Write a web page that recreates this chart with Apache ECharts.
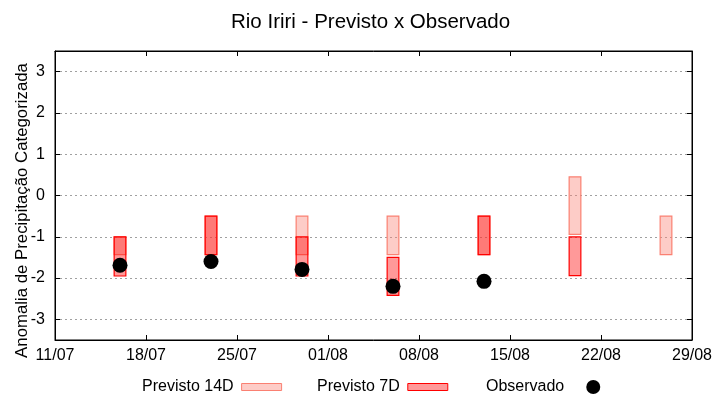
<!DOCTYPE html>
<html>
<head>
<meta charset="utf-8">
<script src="https://cdn.jsdelivr.net/npm/echarts@6/dist/echarts.min.js"></script>
<style>html,body{margin:0;padding:0;background:#fff}#c{width:720px;height:400px}</style>
</head>
<body>
<div id="c"></div>
<script>
// ---- data ----
const xTickLabels = ['11/07','18/07','25/07','01/08','08/08','15/08','22/08','29/08'];
const yTicks = [-3,-2,-1,0,1,2,3];

const dates14 = ['16/07','23/07','30/07','06/08','13/08','20/08','27/08'];
const high14  = [-1.00, -0.50, -0.50, -0.50, -0.50,  0.45, -0.50];
const low14   = [-1.43, -1.43, -1.43, -1.43, -1.43, -0.94, -1.43];

const dates7 = ['16/07','23/07','30/07','06/08','13/08','20/08'];
const high7  = [-1.00, -0.50, -1.00, -1.50, -0.50, -1.00];
const low7   = [-1.95, -1.43, -1.95, -2.42, -1.43, -1.94];

const datesObs = ['16/07','23/07','30/07','06/08','13/08'];
const obs      = [-1.69, -1.60, -1.79, -2.20, -2.08];

// ---- helpers ----
const ORIGIN = Date.UTC(2020, 6, 11);
function dayOf(s){ const [d,m] = s.split('/').map(Number); return Math.round((Date.UTC(2020, m-1, d) - ORIGIN)/86400000); }
function labelOf(v){ const dt = new Date(ORIGIN + v*86400000); return String(dt.getUTCDate()).padStart(2,'0') + '/' + String(dt.getUTCMonth()+1).padStart(2,'0'); }

const BOX_W = 0.9;
function boxRender(fill, stroke, lw){
  return function(params, api){
    const x = api.value(0), lo = api.value(1), hi = api.value(2);
    const p1 = api.coord([x - BOX_W/2, hi]);
    const p2 = api.coord([x + BOX_W/2, lo]);
    return { type:'rect', shape:{x:p1[0], y:p1[1], width:p2[0]-p1[0], height:p2[1]-p1[1]},
             style:{fill:fill, stroke:stroke, lineWidth:lw} };
  };
}

const FONT = 'Liberation Sans, Arial, sans-serif';
const C14_FILL = 'rgba(250,128,114,0.4)', C14_LINE = '#FA8072';
const C7_FILL = 'rgba(255,0,0,0.4)', C7_LINE = '#FF0000';

const chart = echarts.init(document.getElementById('c'));
chart.setOption({
  animation:false,
  backgroundColor:'#fff',
  textStyle:{fontFamily:FONT},
  title:{text:'Rio Iriri - Previsto x Observado', left:226, top:7,
         textStyle:{fontFamily:FONT, fontSize:20.5, fontWeight:'normal', color:'#000'}},
  grid:{left:55, right:28, top:51, bottom:60, show:true, borderColor:'#000', borderWidth:1,
        containLabel:false, outerBoundsMode:'none'},
  legend:[
    {data:[{name:'Previsto 14D', icon:'rect', itemStyle:{color:C14_FILL, borderColor:C14_LINE, borderWidth:1}},
           {name:'Previsto 7D', icon:'rect', itemStyle:{color:C7_FILL, borderColor:C7_LINE, borderWidth:1}}],
     left:142, top:379, align:'right', itemWidth:40, itemHeight:7, itemGap:35, selectedMode:false, padding:0,
     textStyle:{fontFamily:FONT, fontSize:16, color:'#000', padding:[0,3,0,0]}},
    {data:[{name:'Observado', icon:'circle', itemStyle:{color:'#000', opacity:1}}],
     left:486, top:379, align:'right', itemWidth:40, itemHeight:14, selectedMode:false, padding:0,
     textStyle:{fontFamily:FONT, fontSize:16, color:'#000', padding:[0,4,0,0]}}
  ],
  xAxis:[
    {type:'value', min:0, max:49, interval:7, position:'bottom',
     axisLine:{show:true, onZero:false, lineStyle:{color:'#000'}},
     axisTick:{show:true, inside:true, length:5, lineStyle:{color:'#000'}},
     axisLabel:{formatter:labelOf, fontFamily:FONT, fontSize:16, color:'#000', margin:8},
     splitLine:{show:false}},
    {type:'value', min:0, max:49, interval:7, position:'top',
     axisLine:{show:true, onZero:false, lineStyle:{color:'#000'}},
     axisTick:{show:true, inside:true, length:5, lineStyle:{color:'#000'}},
     axisLabel:{show:false}, splitLine:{show:false}}
  ],
  yAxis:[
    {type:'value', min:-3.5, max:3.5, splitNumber:7, position:'left',
     name:'Anomalia de Precipitação Categorizada', nameLocation:'middle', nameGap:24, nameMoveOverlap:false,
     nameTextStyle:{fontFamily:FONT, fontSize:16.8, color:'#000', padding:[0,30,0,0]},
     axisLine:{show:true, onZero:false, lineStyle:{color:'#000'}},
     axisTick:{show:true, inside:true, length:5, lineStyle:{color:'#000'}},
     axisLabel:{fontFamily:FONT, fontSize:16, color:'#000', margin:10, showMinLabel:false, showMaxLabel:false,
                formatter:function(v){ return yTicks.indexOf(v) >= 0 ? String(v) : ''; }},
     splitLine:{show:true, lineStyle:{color:'#a0a0a0', type:[2,3], width:1}}},
    {type:'value', min:-3.5, max:3.5, splitNumber:7, position:'right',
     axisLine:{show:true, onZero:false, lineStyle:{color:'#000'}},
     axisTick:{show:true, inside:true, length:5, lineStyle:{color:'#000'}},
     axisLabel:{show:false}, splitLine:{show:false}}
  ],
  series:[
    {name:'Previsto 14D', type:'custom', renderItem:boxRender(C14_FILL, C14_LINE, 1.2),
     encode:{x:0, y:[1,2]}, data:dates14.map((d,i)=>[dayOf(d), low14[i], high14[i]]), z:2},
    {name:'Previsto 7D', type:'custom', renderItem:boxRender(C7_FILL, C7_LINE, 1.2),
     encode:{x:0, y:[1,2]}, data:dates7.map((d,i)=>[dayOf(d), low7[i], high7[i]]), z:3},
    {name:'Observado', type:'scatter', symbol:'circle', symbolSize:15, itemStyle:{color:'#000', opacity:1},
     data:datesObs.map((d,i)=>[dayOf(d), obs[i]]), z:4}
  ]
});
</script>
</body>
</html>
